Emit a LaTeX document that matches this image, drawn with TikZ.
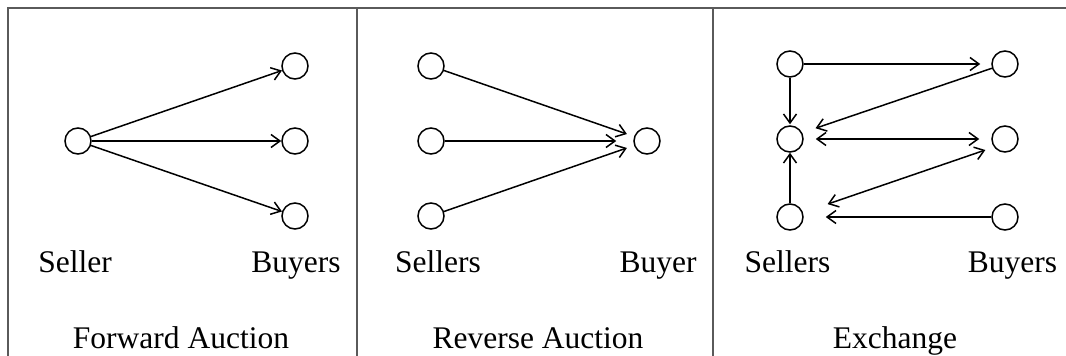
\documentclass[tikz,border=0pt]{standalone}
\usepackage{fontspec}
\setmainfont{Liberation Serif}
\usetikzlibrary{arrows.meta}
\definecolor{framegray}{HTML}{5A5A5A}
\tikzset{
  party/.style={circle, draw, line width=1.5pt, minimum size=26pt, inner sep=0pt},
  flow/.style={line width=1.5pt, -{Straight Barb[length=9pt,width=13pt]}},
  flowboth/.style={line width=1.5pt, {Straight Barb[length=9pt,width=13pt]}-{Straight Barb[length=9pt,width=13pt]}},
  lbl/.style={anchor=base, inner sep=0pt, font=\fontsize{31.5pt}{36pt}\selectfont},
  frame/.style={draw=framegray, line width=1.6pt}
}
\begin{document}
\begin{tikzpicture}[x=1pt,y=-1pt]
\useasboundingbox (0,0) rectangle (1066,356);
% frame
\coordinate (tl) at (8,8);
\coordinate (tr) at (1066,8);
\coordinate (bl) at (8,356);
\coordinate (d1t) at (357,8);
\coordinate (d1b) at (357,356);
\coordinate (d2t) at (713,8);
\coordinate (d2b) at (713,356);
\draw[frame] (bl) -- (tl) -- (tr);
\draw[frame] (d1t) -- (d1b);
\draw[frame] (d2t) -- (d2b);

% Forward auction
\node[party] (fs)  at (78,141) {};
\node[party] (fb1) at (295,66) {};
\node[party] (fb2) at (295,141) {};
\node[party] (fb3) at (295,216) {};
\draw[flow] (fs) -- (fb1);
\draw[flow] (fs) -- (fb2);
\draw[flow] (fs) -- (fb3);
\node[lbl] (fsl) at (75,272) {Seller};
\node[lbl] (fbl) at (296,272) {Buyers};
\node[lbl] (ft)  at (181,348) {Forward Auction};

% Reverse auction
\node[party] (rs1) at (431,66) {};
\node[party] (rs2) at (431,141) {};
\node[party] (rs3) at (431,216) {};
\node[party] (rb)  at (647,141) {};
\draw[flow, shorten >=7.5pt] (rs1) -- (rb);
\draw[flow, shorten >=17pt] (rs2) -- (rb);
\draw[flow, shorten >=7.5pt] (rs3) -- (rb);
\node[lbl] (rsl) at (438,272) {Sellers};
\node[lbl] (rbl) at (658,272) {Buyer};
\node[lbl] (rt)  at (538,348) {Reverse Auction};

% Exchange
\node[party] (es1) at (790,64) {};
\node[party] (es2) at (790,139) {};
\node[party] (es3) at (790,217) {};
\node[party] (eb1) at (1005,64) {};
\node[party] (eb2) at (1005,139) {};
\node[party] (eb3) at (1005,217) {};
\draw[flow, shorten >=11pt] (es1) -- (eb1);
\draw[flow, shorten >=1pt] (es1) -- (es2);
\draw[flow, shorten >=14pt] (eb1.198) -- (es2.27);
\draw[flowboth, shorten <=12pt, shorten >=12pt] (es2) -- (eb2);
\draw[flowboth, shorten <=9pt, shorten >=26pt] (eb2.216) -- (es3);
\draw[flow, shorten >=22pt] (eb3) -- (es3);
\draw[flow] (es3) -- (es2);
\node[lbl] (esl) at (787.5,272) {Sellers};
\node[lbl] (ebl) at (1012.5,272) {Buyers};
\node[lbl] (et)  at (895,348) {Exchange};
\end{tikzpicture}
\end{document}
